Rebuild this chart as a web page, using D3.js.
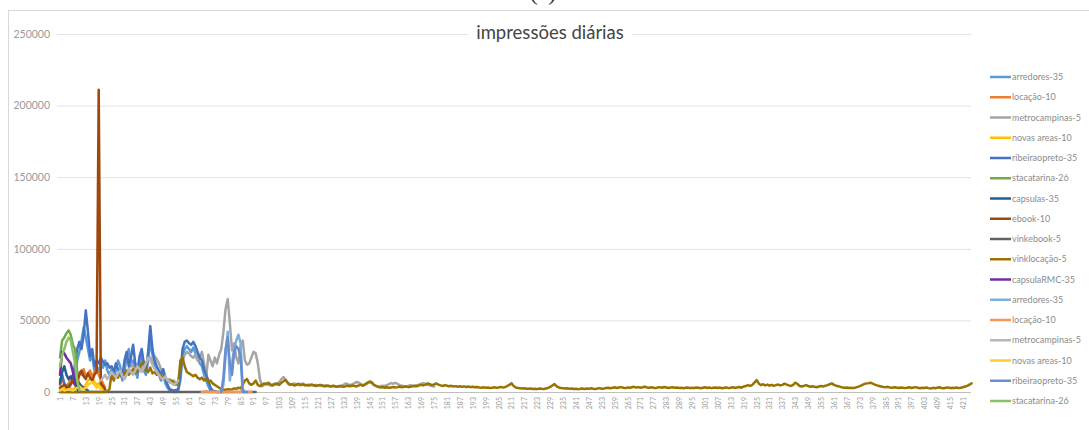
<!DOCTYPE html>
<html>
<head>
<meta charset="utf-8">
<script src="https://cdn.jsdelivr.net/npm/d3@7/dist/d3.min.js"></script>
<style>
  html, body { margin: 0; padding: 0; background: #fff; }
  svg { display: block; }
</style>
</head>
<body>
<svg id="chart" width="1089" height="430"></svg>
<script>
// ---- data -------------------------------------------------------------
const dayCount = 425;
const yTicks = [0, 50000, 100000, 150000, 200000, 250000];
const chartTitle = "impressões diárias";

const seriesNames = [
  "arredores-35", "locação-10", "metrocampinas-5", "novas areas-10",
  "ribeiraopreto-35", "stacatarina-26", "capsulas-35", "ebook-10",
  "vinkebook-5", "vinklocação-5", "capsulaRMC-35", "arredores-35",
  "locação-10", "metrocampinas-5", "novas areas-10", "ribeiraopreto-35",
  "stacatarina-26"
];
const seriesColors = [
  "#5B9BD5", "#ED7D31", "#A5A5A5", "#FFC000", "#4472C4", "#70AD47",
  "#255E91", "#9E480E", "#636363", "#997300", "#7030A0", "#7CAFDD",
  "#F1975A", "#B7B7B7", "#FFCD33", "#698ED0", "#8CC168"
];
// first day on which each series has a value
const seriesStarts = [8, 1, 30, 1, 1, 1, 1, 1, 1, 1, 1, 76, 67, 20, 1, 76, 1];

const arredores35 = [
  10000, 22000, 28000, 36000, 45000, 38000, 30000, 22000, 26000, 15000,
  18000, 14000, 20000, 17000, 22000, 15000, 12000, 16000, 10000, 15000,
  22000, 18000, 8000, 14000, 25000, 30000, 18000, 22000, 15000, 10000,
  20000, 26000, 15000, 12000, 22000, 36000, 26000, 18000, 14000, 12000,
  8000, 12000, 6000, 3000, 1000, 500, 0, 0, 1000, 8000,
  25000, 30000, 32000, 30000, 28000, 31000, 27000, 24000, 20000, 18000,
  12000, 8000, 4000, 1000, 0
];
const locacao10 = [
  5000, 8000, 6000, 4000, 6000, 9000, 12000, 8000, 10000, 14000,
  12000, 16000, 11000, 13000, 15000, 10000, 14000, 16000, 12000, 9000,
  6000, 3000
];
const metrocampinas5 = [
  12000, 14000, 13000, 16000, 20000, 18000, 15000, 17000, 19000, 16000,
  18000, 20000, 22000, 24000, 21000, 25000, 23000, 20000, 16000, 12000,
  10000, 8000, 9000, 7000, 8000, 6000, 7000, 15000, 22000, 26000,
  28000, 27000, 25000, 24000, 26000, 22000, 24000, 28000, 20000, 10000,
  26000, 22000, 18000, 24000, 20000, 26000, 30000, 42000, 58000, 65000,
  48000, 29000, 34000, 24000, 20000, 32000, 36000, 22000, 19000, 20000,
  24000, 28000, 27000, 20000, 9000, 4000, 5000, 6000, 5000, 4500,
  5500, 6000, 5000, 7000, 9000, 10500, 8000, 6500, 5500, 5000,
  6000, 5500, 4800, 5200, 6000, 5000, 4500, 5200, 4800, 4400,
  5000, 4600, 4200, 4800, 4400, 4000, 4400, 3800, 4200, 3900,
  3600, 4000, 4500, 5200, 6000, 5200, 4800, 5500, 6200, 7000,
  6500, 5400, 4800, 5200, 6000, 6800, 6200, 5000, 4200, 3800,
  4000, 4400, 4200, 4800, 5500, 6200, 5800, 6400, 5600, 4800,
  4400, 4000, 3800, 4200, 4800, 4400, 4000, 4600, 5200, 5800,
  6200, 5600, 5000, 4600, 4200, 3800
];
const novasAreas10 = [
  2000, 3000, 1500, 2500, 3500, 2500, 1500, 3000, 5000, 6000,
  4000, 3000, 5000, 8000, 9000, 10000, 7000, 5000, 6000, 4000,
  2000, 1000
];
const ribeiraopreto35 = [
  8000, 12000, 6000, 4000, 3000, 5000, 9000, 20000, 30000, 35000,
  30000, 40000, 57000, 42000, 25000, 30000, 18000, 22000, 20000, 24000,
  21000, 19000, 20000, 17000, 18000, 14000, 20000, 16000, 12000, 10000,
  22000, 28000, 18000, 24000, 33000, 20000, 14000, 25000, 30000, 20000,
  15000, 28000, 46000, 30000, 22000, 18000, 15000, 12000, 16000, 10000,
  5000, 2000, 1500, 1000, 1500, 2000, 12000, 30000, 35000, 36000,
  34000, 33000, 35000, 32000, 28000, 24000, 22000, 16000, 12000, 8000,
  3000, 1000, 500, 0, 0
];
const stacatarina26 = [24000, 36000, 38000, 41000, 43000, 40000, 33000, 30000, 14000, 2000];
const capsulas35 = [
  6000, 14000, 18000, 12000, 9000, 11000, 7000, 5000, 8000, 6000,
  4000, 3000, 2000, 1000
];
const ebook10 = [
  3000, 4000, 5000, 3000, 4000, 6000, 8000, 10000, 7000, 12000,
  15000, 11000, 9000, 13000, 10000, 8000, 12000, 14000, 211000, 6000,
  4000, 2000
];
const vinkebook5 = [
  0, 0, 0, 0, 0, 0, 0, 0, 0, 0, 0, 0, 0, 0, 0, 0, 0, 0, 0, 0,
  0, 0, 0, 0, 0, 0, 0, 0, 0, 0, 0, 0, 0, 0, 0, 0, 0, 0, 0, 0,
  0, 0, 0, 0, 0, 0, 0, 0, 0, 0, 0, 0, 0, 0, 0, 0, 0, 0, 0, 0,
  0, 0, 0, 0, 0, 0, 0, 0, 0, 0, 0, 0, 0, 0, 0, 0, 0, 0, 0, 0,
  0, 0, 0, 0, 0, 0, 0, 0, 0, 0, 0, 0
];
const vinklocacao5 = [
  0, 0, 0, 0, 0, 0, 0, 0, 0, 0,
  0, 0, 0, 0, 0, 0, 0, 0, 0, 0,
  0, 0, 500,
  2000, 13000, 8000, 12000, 10000, 14000, 11000, 13000, 15000, 12000,
  14000, 16000, 13000, 15000, 17000, 20000, 21000, 15000, 14000, 17000,
  13000, 14000, 12000, 13000, 10000, 11000, 9000, 8000, 7000, 8000,
  6000, 5000, 6000, 22000, 24000, 18000, 14000, 13000, 12000, 11000,
  12000, 10000, 9000, 10000, 8000, 9000, 7000, 8000, 6000, 5000,
  4000, 3000, 2000, 1500, 1500, 2000, 1800, 2000, 2500, 2200,
  3000, 2500, 5000, 8000, 9000, 6000, 5000, 6000, 8000, 5000,
  4000, 5000,
  6000, 5500, 6500, 5000, 4500, 5500, 6000, 5000, 6500, 7500,
  8500, 6000, 5000, 5500, 4500, 5000, 5800, 4800, 5200, 4600,
  5000, 4500, 5200, 4800, 4200, 4600, 5000, 4400, 4000, 4500,
  4200, 3800, 4400, 4000, 3700, 4200, 3900, 3600, 4100, 4400,
  4000, 4500, 4200, 3900, 4600, 5000, 4300, 5500, 6500, 7300,
  6800, 5000, 4200, 3600, 3200, 3500, 3000, 3300, 2900, 3200,
  3500, 3100, 3400, 3800, 3300, 3600, 3900, 3400, 3700, 4000,
  4400, 4000, 4600, 5000, 4600, 5200, 6000, 5400, 4800, 5200,
  6000, 5200, 4600, 4200, 4800, 4400, 4000, 4300, 3800, 4100,
  3700, 4000, 3600, 3900, 3500, 3800, 3400, 3700, 3300, 3500,
  3200, 3000, 3300, 2900, 3100, 2800, 3000, 3300, 2900, 3200,
  3600, 3100, 3400, 4200, 5000, 6000, 4200, 3200, 2800, 2600,
  2400, 2600, 2300, 2200, 2500, 2100, 2300, 2000, 2400, 2200,
  2100, 2500, 2800, 3500, 4500, 5500, 4000, 3200, 2800, 2600,
  2400, 2600, 2200, 2500, 2100, 2300, 2000, 2200, 2500, 2100,
  2400, 2200, 2600, 2300, 2000, 2400, 2700, 2300, 2500, 2800,
  3000, 2600, 2900, 3300, 2800, 3100, 3400, 3000, 2700, 3200,
  2900, 3300, 3600, 3100, 3400, 3000, 3300, 3700, 3200, 2900,
  3300, 3000, 2700, 3100, 3400, 3000, 3500, 3200, 2800, 3100,
  3300, 2900, 3200, 2800, 3000, 2600, 2900, 3100, 2700, 3000,
  2800, 3200, 2900, 2600, 3000, 3300, 2800, 3100, 2700, 3000,
  3200, 2800, 3100, 2600, 2900, 3200, 2700, 3000, 3300, 2900,
  3200, 3500, 3000, 3800, 4200, 4800, 4200, 5000, 6500, 8400,
  6000, 4800, 5400, 4600, 5200, 4400, 5000, 4300, 4800, 5200,
  4600, 5000, 5800, 5200, 4600, 4200, 5000, 6500, 5600, 4200,
  3800, 4300, 4800, 4200, 3700, 4000, 3600, 3300, 3800, 4200,
  3900, 4400, 4800, 5400, 6000, 5000, 4400, 4000, 3600, 3200,
  2900, 3200, 2800, 3000, 2700, 3100, 3600, 4100, 4800, 5500,
  6000, 6200, 6500, 5800, 5200, 4600, 4200, 3800, 3500, 3300,
  3600, 3200, 2900, 3300, 3100, 2800, 3200, 3000, 2700, 3000,
  3300, 2800, 3100, 3400, 2900, 2600, 3000, 2800, 3200, 2700,
  2500, 2900, 2600, 3000, 3300, 2800, 2600, 2900, 3200, 2700,
  3000, 2800, 3100, 2700, 3000, 3300, 3800, 4300, 5200, 6000
];
const capsulaRMC35 = [12000, 28000, 27000, 24000, 22000, 20000, 14000, 6000, 2000, 500];
const arredores35b = [0, 5000, 25000, 42000, 8000, 20000, 30000, 36000, 40000, 34000, 2000, 0];
const locacao10b = [
  0, 0, 500, 0, 0, 300, 0, 0, 0, 200, 0, 0,
  0, 0, 500, 0, 0, 0, 0, 300, 0, 0, 0, 0
];
const metrocampinas5b = [
  8000, 10000, 12000, 9000, 11000, 14000, 12000, 10000, 13000, 15000,
  11000, 9000, 12000, 16000, 14000, 12000, 15000, 18000, 16000, 14000,
  17000, 20000, 24000, 22000, 19000, 16000, 14000, 12000, 10000, 9000,
  11000, 8000, 7000, 6000, 5000, 6000, 8000
];
const novasAreas10b = [
  1000, 2000, 1000, 1500, 2000, 1500, 1000, 2000, 3000, 4000,
  2500, 2000, 3000, 5000, 6000, 7000, 5000, 3000, 4000, 2000
];
const ribeiraopreto35b = [0, 10000, 30000, 38000, 20000, 12000, 28000, 32000, 30000, 25000, 0, 0, 0];
const stacatarina26b = [18000, 26000, 30000, 35000, 38000, 36000, 28000, 20000, 8000, 1000];

const seriesValues = [
  arredores35, locacao10, metrocampinas5, novasAreas10, ribeiraopreto35,
  stacatarina26, capsulas35, ebook10, vinkebook5, vinklocacao5,
  capsulaRMC35, arredores35b, locacao10b, metrocampinas5b, novasAreas10b,
  ribeiraopreto35b, stacatarina26b
];

// ---- layout -----------------------------------------------------------
const svg = d3.select("#chart");
const W = 1089, H = 430;
const plot = { left: 57, right: 971, top: 34, bottom: 392 };

const days = d3.range(1, dayCount + 1);
const x = d3.scalePoint().domain(days).range([60, 971.6]);
const y = d3.scaleLinear().domain([0, 250000]).range([plot.bottom, plot.top]);

svg.append("rect").attr("width", W).attr("height", H).attr("fill", "#fff");

// chart frame
svg.append("rect")
  .attr("x", 8.5).attr("y", 10.5)
  .attr("width", W + 20).attr("height", H + 20)
  .attr("fill", "none").attr("stroke", "#d9d9d9");

// caption letter above the frame (runs off the top edge)
svg.append("text")
  .attr("x", 543).attr("y", 0)
  .attr("text-anchor", "middle")
  .attr("font-family", "Liberation Serif, serif")
  .attr("font-size", 24)
  .attr("fill", "#333")
  .text("(a)");

// horizontal gridlines + y labels
const yAxis = d3.axisLeft(y).tickValues(yTicks).tickSize(0).tickPadding(7)
  .tickFormat(d3.format("d"));
const gy = svg.append("g").attr("transform", `translate(${plot.left},0)`).call(yAxis);
gy.select(".domain").remove();
gy.selectAll("text")
  .attr("font-family", "Lato, sans-serif")
  .attr("font-size", 10.5)
  .attr("fill", "#9a9a9a");
gy.selectAll(".tick").append("line")
  .attr("x1", 0).attr("x2", plot.right - plot.left)
  .attr("stroke", d => d === 0 ? "#bfbfbf" : "#e3e3e3")
  .attr("stroke-width", 1);

// x axis labels (every sixth day)
const xAxis = d3.axisBottom(x)
  .tickValues(days.filter(d => (d - 1) % 6 === 0))
  .tickSize(0).tickPadding(0);
const gx = svg.append("g").attr("transform", `translate(0,${plot.bottom})`).call(xAxis);
gx.select(".domain").remove();
gx.selectAll("text")
  .attr("font-family", "Lato, sans-serif")
  .attr("font-size", 7)
  .attr("fill", "#9a9a9a")
  .attr("text-anchor", "end")
  .attr("dy", "0.35em")
  .attr("transform", "translate(0,5) rotate(-90)")
  .attr("x", 0).attr("y", 0);

// title with white backing over the top gridline
const title = svg.append("text")
  .attr("x", 550).attr("y", 39)
  .attr("text-anchor", "middle")
  .attr("font-family", "Lato, sans-serif")
  .attr("font-size", 18.5)
  .attr("fill", "#454545")
  .text(chartTitle);
const tb = title.node().getBBox();
svg.insert("rect", () => title.node())
  .attr("x", tb.x - 8).attr("y", tb.y)
  .attr("width", tb.width + 16).attr("height", tb.height)
  .attr("fill", "#fff");

// series lines
const line = d3.line()
  .defined(d => d.v != null)
  .x(d => x(d.day))
  .y(d => y(d.v));

const linesG = svg.append("g");
seriesValues.forEach((vals, i) => {
  const pts = vals.map((v, k) => ({ day: seriesStarts[i] + k, v }));
  linesG.append("path")
    .datum(pts)
    .attr("d", line)
    .attr("fill", "none")
    .attr("stroke", seriesColors[i])
    .attr("stroke-width", 2.5)
    .attr("stroke-linejoin", "round")
    .attr("stroke-linecap", "round");
});

// legend
const legend = svg.append("g").attr("transform", "translate(990,77)");
seriesNames.forEach((name, i) => {
  const g = legend.append("g").attr("transform", `translate(0,${i * 20.25})`);
  g.append("line")
    .attr("x1", 0).attr("x2", 21)
    .attr("stroke", seriesColors[i]).attr("stroke-width", 2.5);
  g.append("text")
    .attr("x", 22).attr("y", 0).attr("dy", "0.35em")
    .attr("font-family", "Lato, sans-serif")
    .attr("font-size", 9)
    .attr("fill", "#8c8c8c")
    .text(name);
});
</script>
</body>
</html>
